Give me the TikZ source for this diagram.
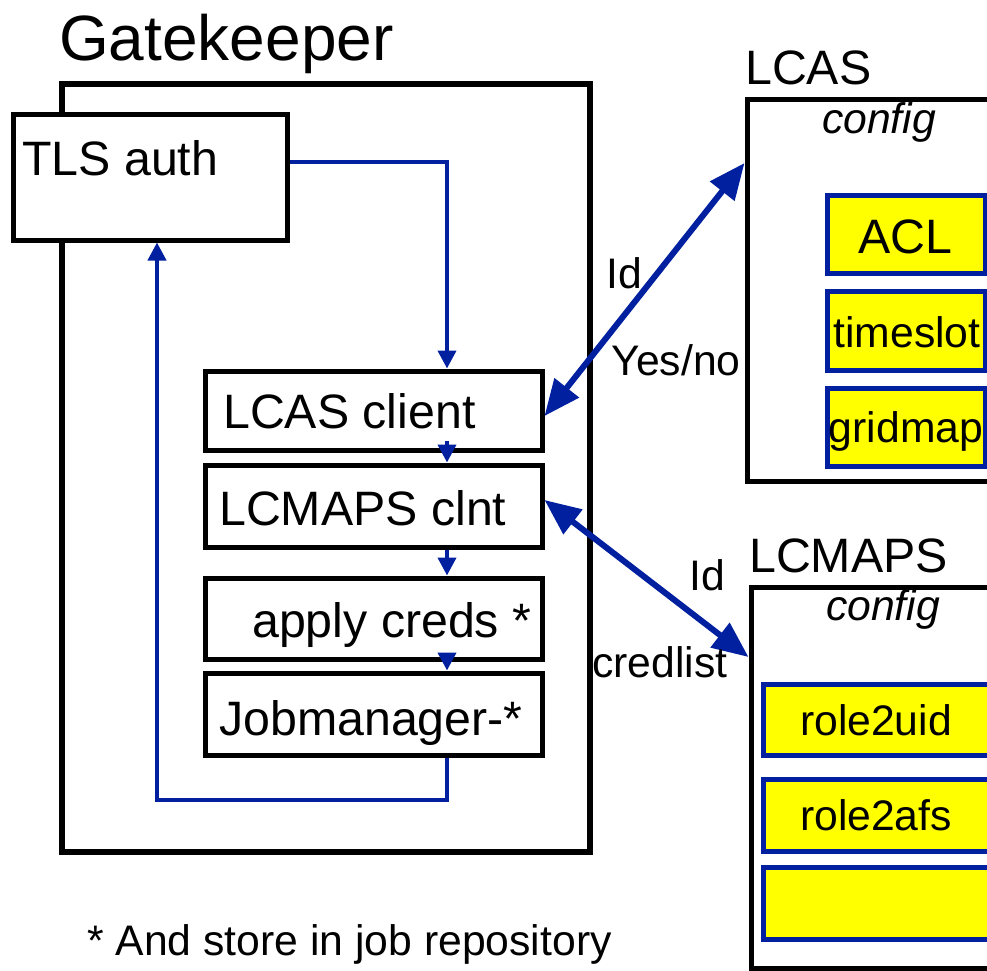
\documentclass[tikz,border=0pt]{standalone}
\usepackage{fontspec}
\setmainfont{Liberation Sans}
\usetikzlibrary{arrows.meta}
\definecolor{bl}{RGB}{0,32,160}
\definecolor{yl}{RGB}{255,255,0}
\newcommand\szG{\fontsize{64}{72}\selectfont}
\newcommand\szB{\fontsize{48.3}{56}\selectfont}
\newcommand\szS{\fontsize{42.7}{49}\selectfont}
\begin{document}
\begin{tikzpicture}[x=1pt,y=-1pt,
 box/.style={draw,line width=5pt,inner sep=0pt,fill=white},
 ybox/.style={draw=bl,fill=yl,line width=5pt,inner sep=0pt},
 flow/.style={draw=bl,line width=4pt,-{Triangle[length=18pt,width=18pt]}},
 dbl/.style={draw=bl,line width=6pt,{Triangle[length=36pt,width=30pt]}-{Triangle[length=36pt,width=30pt]}},
 txt/.style={inner sep=0pt,anchor=base west},
 ctxt/.style={inner sep=0pt,anchor=base}]
\useasboundingbox (0,0) rectangle (987,970);
\clip (0,0) rectangle (987,970);
% Gatekeeper
\node[box,line width=6pt,fill=none,minimum width=528pt,minimum height=768pt] (gk) at (326,468) {};
\node[txt] (gkl) at (59,60) {\szG Gatekeeper};
\node[box,minimum width=274pt,minimum height=126pt] (tls) at (150,177) {};
\node[txt] (tlsl) at (22,175) {\szB TLS auth};
\node[box,minimum width=337pt,minimum height=79pt] (lc) at (373.5,410.5) {};
\node[txt] (lcl) at (223,428) {\szB LCAS client};
\node[box,minimum width=337pt,minimum height=82pt] (lm) at (373.5,506) {};
\node[txt] (lml) at (219,525) {\szB LCMAPS clnt};
\node[box,minimum width=337pt,minimum height=81pt] (ap) at (373.5,618.5) {};
\node[txt] (apl) at (252,637) {\szB apply creds *};
\node[box,minimum width=337pt,minimum height=82pt] (jm) at (373.5,714) {};
\node[txt] (jml) at (219,735) {\szB Jobmanager-*};
% LCAS
\node[box,fill=none,minimum width=260pt,minimum height=382pt] (lcas) at (877,290) {};
\node[txt] (lcasl) at (745,84) {\szB LCAS};
\node[ctxt] (lcascfg) at (879,133) {\szS\itshape config};
\node[ybox,minimum width=158pt,minimum height=78pt] (acl) at (906,234) {};
\node[ctxt] (acll) at (905,253) {\szB ACL};
\node[ybox,minimum width=158pt,minimum height=79pt] (ts) at (906,330.5) {};
\node[ctxt] (tsl) at (907,347) {\szS timeslot};
\node[ybox,minimum width=158pt,minimum height=78pt] (gm) at (906,427) {};
\node[ctxt] (gml) at (906,442) {\szS gridmap};
% LCMAPS
\node[box,fill=none,minimum width=260pt,minimum height=381pt] (lcm) at (881,777.5) {};
\node[txt] (lcml) at (749,572) {\szB LCMAPS};
\node[ctxt] (lcmcfg) at (883,620) {\szS\itshape config};
\node[ybox,minimum width=237pt,minimum height=71pt] (r2u) at (881.5,719.5) {};
\node[ctxt] (r2ul) at (876,735) {\szS role2uid};
\node[ybox,minimum width=237pt,minimum height=72pt] (r2a) at (881.5,815) {};
\node[ctxt] (r2al) at (876,830) {\szS role2afs};
\node[ybox,minimum width=237pt,minimum height=72pt] (emp) at (881.5,903) {};
% flow arrows
\coordinate (cx) at (447,0);
\coordinate (ty) at (0,162);
\coordinate (by) at (0,800);
\coordinate (lx) at (157,0);
\draw[flow] (tls.east |- ty) -| (lc.north -| cx);
\draw[flow] ([yshift=12pt]lc.south -| cx) -- (lm.north -| cx);
\draw[flow] (lm.south -| cx) -- (ap.north -| cx);
\draw[flow] (ap.south -| cx) -- (jm.north -| cx);
\draw[flow] (jm.south -| cx) |- (by -| lx) -- (tls.south -| lx);
% diagonal arrows
\draw[dbl] (lc.east |- 0,416) -- (lcas.west |- 0,163);
\draw[dbl] (lm.east |- 0,500) -- (lcm.west |- 0,657);
% labels
\node[ctxt] (id1) at (624,288) {\szS Id};
\node[ctxt] (yn) at (676,375) {\szS Yes/no};
\node[ctxt] (id2) at (707,590) {\szS Id};
\node[ctxt] (cl) at (660,677) {\szS credlist};
\node[txt] (fn) at (87,955) {\szS * And store in job repository};
\end{tikzpicture}
\end{document}
